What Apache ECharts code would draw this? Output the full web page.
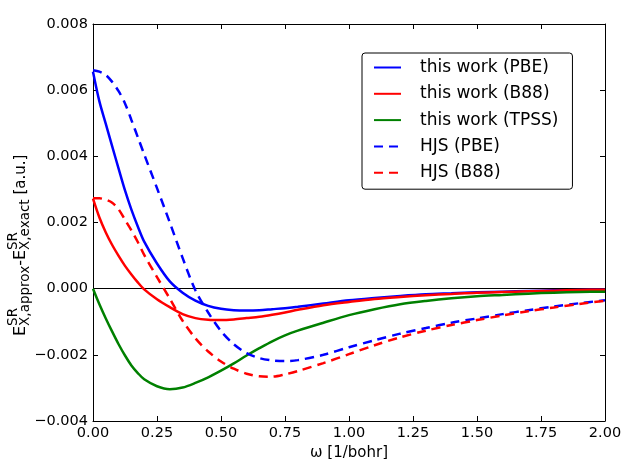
<!DOCTYPE html>
<html>
<head>
<meta charset="utf-8">
<script src="https://cdn.jsdelivr.net/npm/echarts@6/dist/echarts.min.js"></script>
<style>
  html, body { margin: 0; padding: 0; background: #fff; }
  #chart { width: 623px; height: 459px; }
</style>
</head>
<body>
<div id="chart"></div>
<script>
// ---- data ----
const omega = [0, 0.025, 0.05, 0.075, 0.1, 0.125, 0.15, 0.175, 0.2, 0.25, 0.3, 0.35, 0.4, 0.45, 0.5, 0.55, 0.6, 0.65, 0.7, 0.75, 0.8, 0.9, 1.0, 1.1, 1.2, 1.3, 1.4, 1.5, 1.6, 1.7, 1.8, 1.9, 2.0];

const thisWorkPBE = [0.00656, 0.00566, 0.00498, 0.00430, 0.00363, 0.00297, 0.00239, 0.00188, 0.00142, 0.00076, 0.00022, -0.00012, -0.00036, -0.00052, -0.00061, -0.00065, -0.00066, -0.00065, -0.00062, -0.00059, -0.00055, -0.00045, -0.00035, -0.00028, -0.00022, -0.00017, -0.00014, -0.00011, -0.00009, -0.00007, -0.00005, -0.00004, -0.00003];

const thisWorkB88 = [0.00272, 0.00215, 0.00170, 0.00132, 0.00099, 0.00069, 0.00043, 0.00019, -0.00002, -0.00032, -0.00056, -0.00077, -0.00089, -0.00094, -0.00095, -0.00093, -0.00089, -0.00085, -0.00079, -0.00072, -0.00064, -0.00050, -0.00040, -0.00031, -0.00025, -0.00020, -0.00016, -0.00012, -0.00010, -0.00008, -0.00006, -0.00004, -0.00003];

const thisWorkTPSS = [0, -0.00047, -0.00090, -0.00130, -0.00168, -0.00202, -0.00232, -0.00255, -0.00274, -0.00295, -0.00304, -0.00299, -0.00285, -0.00268, -0.00248, -0.00226, -0.00202, -0.00180, -0.00159, -0.00141, -0.00127, -0.00103, -0.00080, -0.00062, -0.00047, -0.00037, -0.00029, -0.00023, -0.00019, -0.00015, -0.00012, -0.00010, -0.00009];

const hjsPBE = [0.00660, 0.00656, 0.00646, 0.00625, 0.00597, 0.00560, 0.00510, 0.00458, 0.00406, 0.00304, 0.00200, 0.00093, -0.00005, -0.00072, -0.00128, -0.00168, -0.00195, -0.00210, -0.00217, -0.00219, -0.00216, -0.00200, -0.00177, -0.00156, -0.00136, -0.00119, -0.00103, -0.00090, -0.00077, -0.00065, -0.00054, -0.00044, -0.00035];

const hjsB88 = [0.00273, 0.00273, 0.00269, 0.00260, 0.00240, 0.00208, 0.00176, 0.00141, 0.00102, 0.00035, -0.00030, -0.00097, -0.00150, -0.00190, -0.00220, -0.00242, -0.00257, -0.00265, -0.00266, -0.00259, -0.00249, -0.00225, -0.00198, -0.00171, -0.00147, -0.00127, -0.00110, -0.00095, -0.00081, -0.00068, -0.00057, -0.00046, -0.00037];

const seriesNames = ['this work (PBE)', 'this work (B88)', 'this work (TPSS)', 'HJS (PBE)', 'HJS (B88)'];
const xName = 'ω [1/bohr]';

// ---- chart ----
const FONT = 'DejaVu Sans';
const chart = echarts.init(document.getElementById('chart'), null, { renderer: 'canvas' });

function pairs(ys) { return omega.map((x, i) => [x, ys[i]]); }

function yFmt(v) {
  const s = Math.abs(v).toFixed(3);
  return v < -1e-12 ? '\u2212' + s : s;
}

function measure(text, size) {
  const c = document.createElement('canvas').getContext('2d');
  c.font = size + 'px "' + FONT + '"';
  return c.measureText(text).width;
}

// y-axis label built from text pieces (superscript/subscript stacked)
const mainSize = 16, subSize = 13.5, unitSize = 15;
const ylabChildren = [];
let cx = 0;
function addText(t, size, y) {
  ylabChildren.push({ type: 'text', x: cx, y: y, style: { text: t, fontSize: size, fontFamily: FONT, fill: '#000', align: 'left', verticalAlign: 'middle' } });
}
function addMain(t, size) {
  addText(t, size, 0);
  cx += measure(t, size);
}
function addSupSub(sup, sub) {
  addText(sup, subSize, -8);
  addText(sub, subSize, 4.5);
  cx += Math.max(measure(sup, subSize), measure(sub, subSize));
}
addMain('E', mainSize);
addSupSub('SR', 'X,approx');
addMain('-', mainSize);
addMain('E', mainSize);
addSupSub('SR', 'X,exact');
addMain(' [a.u.]', unitSize);

const colors = ['#0000ff', '#ff0000', '#008000', '#0000ff', '#ff0000'];
const datasets = [thisWorkPBE, thisWorkB88, thisWorkTPSS, hjsPBE, hjsB88];
const dashed = [false, false, false, true, true];

const series = datasets.map((d, i) => ({
  name: seriesNames[i],
  type: 'line',
  xAxisIndex: 0,
  yAxisIndex: 0,
  data: pairs(d),
  symbol: 'none',
  smooth: 0.3,
  z: 3,
  lineStyle: { color: colors[i], width: 2.5, type: dashed[i] ? [9, 6] : 'solid' },
  itemStyle: { color: colors[i] }
}));
series[0].markLine = {
  silent: true,
  symbol: 'none',
  label: { show: false },
  lineStyle: { color: '#000', width: 1, type: 'solid' },
  data: [{ yAxis: 0 }],
  z: 2
};

const axisCommonX = {
  type: 'value', min: 0, max: 2, interval: 0.25,
  splitLine: { show: false },
  axisLine: { show: true, onZero: false, lineStyle: { color: '#000', width: 1 } },
  axisTick: { show: true, inside: true, length: 5, lineStyle: { color: '#000' } }
};
const axisCommonY = {
  type: 'value', min: -0.004, max: 0.008, interval: 0.002,
  splitLine: { show: false },
  axisLine: { show: true, onZero: false, lineStyle: { color: '#000', width: 1 } },
  axisTick: { show: true, inside: true, length: 5, lineStyle: { color: '#000' } }
};

chart.setOption({
  animation: false,
  backgroundColor: '#fff',
  grid: { left: 93, right: 18, top: 24, bottom: 38, containLabel: false, outerBoundsMode: 'none' },
  xAxis: [
    Object.assign({}, axisCommonX, {
      position: 'bottom',
      name: xName, nameLocation: 'middle', nameGap: 24,
      nameTextStyle: { fontFamily: FONT, fontSize: 15, color: '#000' },
      axisLabel: { show: true, margin: 5, fontFamily: FONT, fontSize: 14.5, color: '#000', formatter: v => v.toFixed(2) }
    }),
    Object.assign({}, axisCommonX, { position: 'top', axisLabel: { show: false } })
  ],
  yAxis: [
    Object.assign({}, axisCommonY, {
      position: 'left',
      axisLabel: { show: true, margin: 5, fontFamily: FONT, fontSize: 14.5, color: '#000', formatter: yFmt }
    }),
    Object.assign({}, axisCommonY, { position: 'right', axisLabel: { show: false } })
  ],
  legend: {
    show: true,
    orient: 'vertical',
    left: 362,
    top: 53,
    padding: [6, 14, 8, 11],
    itemWidth: 27,
    itemHeight: 17,
    itemGap: 9.3,
    backgroundColor: '#fff',
    borderColor: '#000',
    borderWidth: 1,
    borderRadius: 3,
    itemStyle: { opacity: 0, color: 'rgba(0,0,0,0)', borderWidth: 0 },
    data: seriesNames,
    textStyle: { fontFamily: FONT, fontSize: 17, color: '#000', padding: [0, 0, 0, 14] }
  },
  graphic: [{
    type: 'group',
    x: 21, y: 336,
    rotation: Math.PI / 2,
    children: ylabChildren
  }],
  series: series
});
</script>
</body>
</html>
